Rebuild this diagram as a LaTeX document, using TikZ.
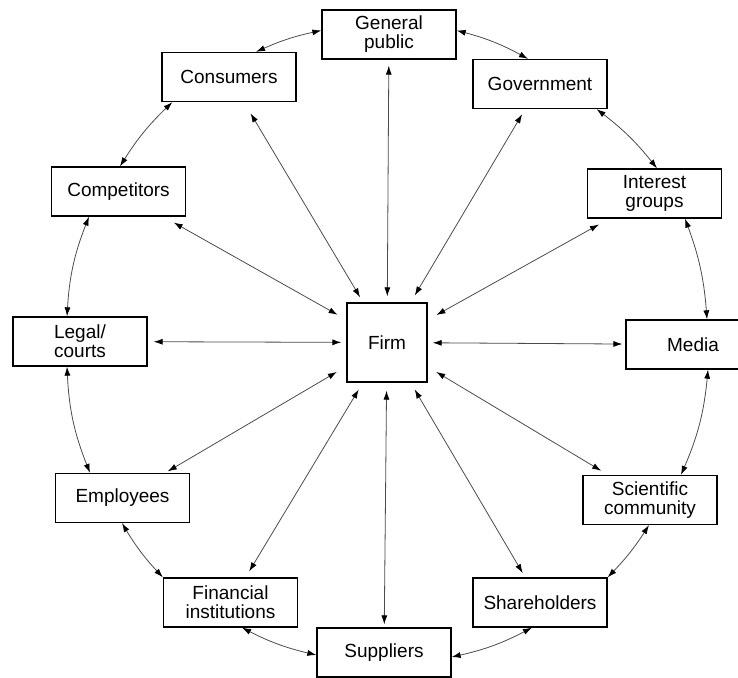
\documentclass[tikz,border=0pt]{standalone}
\usepackage{fontspec}
\setmainfont{Liberation Sans}
\usetikzlibrary{arrows.meta}
\begin{document}
\begin{tikzpicture}[x=1pt,y=1pt,
  box/.style={draw=black, line width=1.3pt, minimum width=134pt, minimum height=49pt, inner sep=0pt, align=center, font=\fontsize{19}{19}\selectfont},
  link/.style={draw=black!70, line width=0.8pt, {Latex[length=9pt,width=6pt,color=black]}-{Latex[length=9pt,width=6pt,color=black]}},
]
\useasboundingbox (0,0) rectangle (738,677);
\fill[white] (0,0) rectangle (738,677);
\clip (0,0) rectangle (738,677);
% nodes
\node[box, minimum width=80pt, minimum height=79pt] (firm) at (387,334.5) {Firm};
\node[box] (gp)    at (389,642.5) {General\\public};
\node[box] (cons)  at (229,600)   {Consumers};
\node[box] (gov)   at (540,593)   {Government};
\node[box] (comp)  at (118.5,485.5) {Competitors};
\node[box] (int)   at (654.5,483.5) {Interest\\groups};
\node[box] (legal) at (80,335.5)  {Legal/\\courts};
\node[box] (media) at (693,332.5) {Media};
\node[box] (empl)  at (122.5,179) {Employees};
\node[box] (sci)   at (650,177)   {Scientific\\community};
\node[box] (fin)   at (230.5,74.5) {Financial\\institutions};
\node[box] (share) at (540,74.5)  {Shareholders};
\node[box] (supp)  at (384,24.5)  {Suppliers};
% radial links
\draw[link, shorten <=6pt, shorten >=6pt]  (firm) -- (gp);
\draw[link, shorten <=6pt, shorten >=13pt] (firm) -- (cons);
\draw[link, shorten <=8pt, shorten >=6pt]  (firm) -- (gov);
\draw[link, shorten <=10pt, shorten >=12pt] (firm) -- (comp);
\draw[link, shorten <=10pt, shorten >=12pt] (firm) -- (int);
\draw[link, shorten <=5pt, shorten >=6pt]  (firm) -- (legal);
\draw[link, shorten <=5pt, shorten >=3pt]  (firm) -- (media);
\draw[link, shorten <=11pt, shorten >=3pt] (firm) -- (empl);
\draw[link, shorten <=10pt, shorten >=8pt] (firm) -- (sci);
\draw[link, shorten <=8pt, shorten >=7pt]  (firm) -- (fin);
\draw[link, shorten <=8pt, shorten >=3pt]  (firm) -- (supp);
\draw[link, shorten <=8pt, shorten >=5pt]  (firm) -- (share);
% ring links
\draw[link] ([xshift=14pt]media.north) to[bend right=8] ([xshift=30.5pt]int.south);
\draw[link] ([xshift=2.5pt]int.north) to[bend right=7] ([xshift=-11pt]gov.south east);
\draw[link] ([xshift=-12pt]gov.north) to[bend right=7] ([yshift=4pt]gp.east);
\draw[link] ([yshift=4pt]gp.west) to[bend right=6] ([xshift=27pt]cons.north);
\draw[link] ([xshift=11pt]cons.south west) to[bend right=7] ([xshift=1.5pt]comp.north);
\draw[link] ([xshift=-29.5pt]comp.south) to[bend right=9] ([xshift=-13pt]legal.north);
\draw[link] ([xshift=-13pt]legal.south) to[bend right=9.5] ([xshift=-32.5pt]empl.north);
\draw[link] ([xshift=-0.5pt]empl.south) to[bend right=6] (fin.north west);
\draw[link] ([xshift=11.5pt]fin.south) to[bend right=7] ([yshift=-2.5pt]supp.west);
\draw[link] ([yshift=-4.5pt]supp.east) to[bend right=7.5] ([xshift=-8pt]share.south);
\draw[link] (share.north east) to[bend right=5.5] ([xshift=-1pt]sci.south);
\draw[link] ([xshift=31pt]sci.north) to[bend right=9] ([xshift=15pt]media.south);
\end{tikzpicture}
\end{document}
